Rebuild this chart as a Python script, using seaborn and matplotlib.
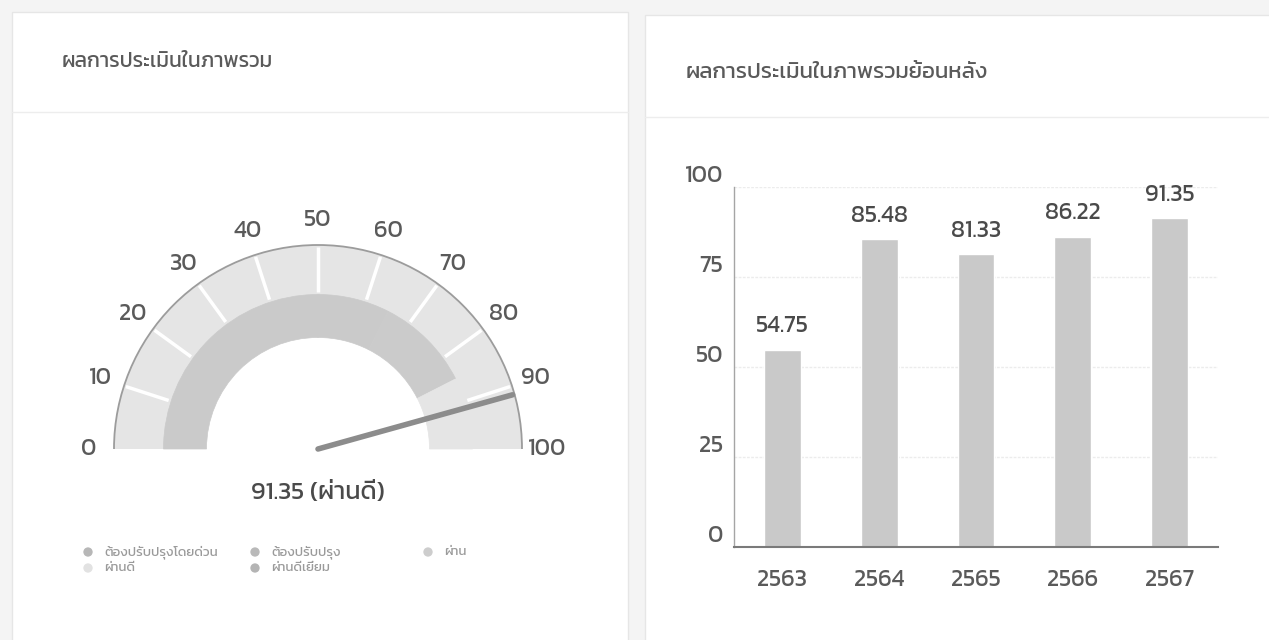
import numpy as np
import pandas as pd
import matplotlib
matplotlib.use("Agg")
import matplotlib.pyplot as plt
import seaborn as sns
from matplotlib.patches import Wedge, Rectangle, Arc
from matplotlib.transforms import ScaledTranslation

# ---------------- data ----------------
title_left = "ผลการประเมินในภาพรวม"
title_right = "ผลการประเมินในภาพรวมย้อนหลัง"
score = 91.35
score_level = "ผ่านดี"
gauge_ticks = [0, 10, 20, 30, 40, 50, 60, 70, 80, 90, 100]

band_names = ["ต้องปรับปรุงโดยด่วน", "ต้องปรับปรุง", "ผ่าน", "ผ่านดี", "ผ่านดีเยี่ยม"]
band_low = [0, 50, 65, 85, 100]
band_high = [50, 65, 85, 100, 100]
band_colors = ["#cacaca", "#cacaca", "#cbcbcb", "#e5e5e5", "#c6c6c6"]
legend_colors = ["#b7b7b7", "#b9b9b9", "#cdcdcd", "#e2e2e2", "#b4b4b4"]

years = ["2563", "2564", "2565", "2566", "2567"]
year_scores = [54.75, 85.48, 81.33, 86.22, 91.35]
bar_yticks = [0, 25, 50, 75, 100]

# ---------------- style ----------------
sns.set_theme(style="white")
plt.rcParams["font.family"] = ["Kanit", "DejaVu Sans"]
plt.rcParams["font.weight"] = "normal"

W, H = 1269, 640
fig = plt.figure(figsize=(W / 100, H / 100), dpi=100, facecolor="#f4f4f4")

# background / cards (image pixel coordinates, y down)
bg = fig.add_axes([0, 0, 1, 1])
bg.set_xlim(0, W)
bg.set_ylim(H, 0)
bg.axis("off")
bg.add_patch(Rectangle((12, 12), 616, 640, fc="white", ec="#e6e6e6", lw=1))
bg.add_patch(Rectangle((645, 15), 640, 640, fc="white", ec="#e6e6e6", lw=1))
bg.plot([12, 628], [112, 112], color="#ededed", lw=1)
bg.plot([645, 1269], [117, 117], color="#ededed", lw=1)
bg.text(62, 62, title_left, va="center", ha="left", fontsize=15, color="#5a5a5a")
bg.text(686, 72, title_right, va="center", ha="left", fontsize=16, color="#5a5a5a")

# ---------------- gauge (y up) ----------------
gx = fig.add_axes([0, 0, 1, 1])
gx.set_xlim(0, W)
gx.set_ylim(0, H)
gx.axis("off")
gx.patch.set_alpha(0)

cx, cy = 318, H - 449
R_out, R_mid, R_in = 204, 154, 111


def ang(v):
    return 180 - 1.8 * v


gx.add_patch(Wedge((cx, cy), R_out, 0, 180, width=R_out - R_mid, fc="#e5e5e5", ec="none"))
for lo, hi, col in zip(band_low, band_high, band_colors):
    if hi > lo:
        gx.add_patch(Wedge((cx, cy), R_mid + 0.5, ang(hi), ang(lo), width=R_mid - R_in,
                           fc=col, ec=col, lw=0.5))
gx.add_patch(Arc((cx, cy), 2 * R_out, 2 * R_out, theta1=0, theta2=180, color="#9c9c9c", lw=1.3))

for t in gauge_ticks[1:-1]:
    a = np.deg2rad(ang(t))
    gx.plot([cx + 157 * np.cos(a), cx + 202 * np.cos(a)],
            [cy + 157 * np.sin(a), cy + 202 * np.sin(a)], color="white", lw=2.5,
            solid_capstyle="butt")

for t in gauge_ticks:
    a = np.deg2rad(ang(t))
    r = 229
    gx.text(cx + r * np.cos(a), cy + r * np.sin(a), str(t), ha="center", va="center",
            fontsize=17, color="#5a5a5a")

a = np.deg2rad(ang(score))
gx.plot([cx, cx + 202 * np.cos(a)], [cy, cy + 202 * np.sin(a)], color="#8c8c8c", lw=4,
        solid_capstyle="round")

gx.text(cx, H - 493, f"{score:.2f} ({score_level})", ha="center", va="center",
        fontsize=18, color="#4a4a4a")

col_x = [88, 255, 428]
row_y = [H - 552, H - 568]
for i, (name, col) in enumerate(zip(band_names, legend_colors)):
    x = col_x[i % 3]
    y = row_y[i // 3]
    gx.scatter([x], [y], s=45, color=col, edgecolors="none")
    gx.text(x + 16, y, name, ha="left", va="center", fontsize=9.5, color="#9a9a9a")

# ---------------- bar chart ----------------
left, right, bottom, top = 734, 1218, 547, 187
ax = fig.add_axes([left / W, (H - bottom) / H, (right - left) / W, (bottom - top) / H])
ax.patch.set_alpha(0)
df = pd.DataFrame({"year": years, "score": year_scores})
sns.barplot(data=df, x="year", y="score", color="#c9c9c9", saturation=1, width=0.38, ax=ax)
ax.set_xlim(-0.5, 4.5)
ax.set_ylim(0, 100)
ax.set_yticks(bar_yticks)
ax.set_xlabel("")
ax.set_ylabel("")
ax.yaxis.grid(True, color="#ececec", lw=1, linestyle=(0, (2, 1)))
ax.set_axisbelow(True)
for s in ["top", "right"]:
    ax.spines[s].set_visible(False)
ax.spines["left"].set_color("#a5a5a5")
ax.spines["left"].set_linewidth(1)
ax.spines["bottom"].set_color("#7a7a7a")
ax.spines["bottom"].set_linewidth(1.5)
ax.tick_params(axis="y", length=0, pad=8, labelsize=17, labelcolor="#5a5a5a")
ax.tick_params(axis="x", length=0, pad=16, labelsize=17, labelcolor="#5a5a5a")
shift = ScaledTranslation(0, 13 / 100, fig.dpi_scale_trans)
for lab in ax.get_yticklabels():
    lab.set_transform(lab.get_transform() + shift)
ax.bar_label(ax.containers[0], labels=[f"{v:.2f}" for v in year_scores], padding=9,
             fontsize=17, color="#4a4a4a")

fig.savefig("out.png", dpi=100, facecolor=fig.get_facecolor())
